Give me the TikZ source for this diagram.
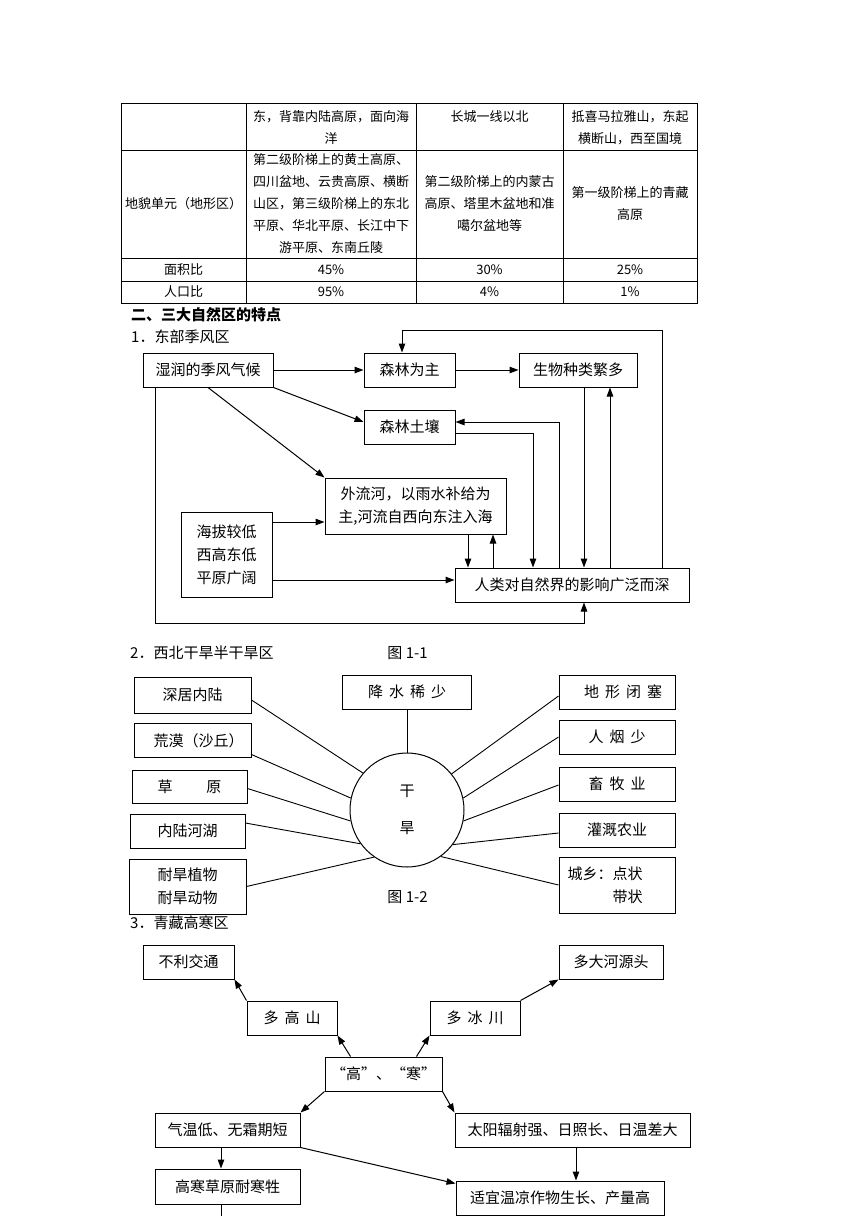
\documentclass[tikz,border=0pt]{standalone}
\usepackage{fontspec}
\setmainfont{Noto Sans CJK SC}
\usetikzlibrary{arrows.meta,positioning}
\newcommand{\figfont}{\fontsize{15pt}{23pt}\selectfont}
\newcommand{\tabfont}{\fontsize{13pt}{22pt}\selectfont}
\newcommand{\gp}{\hspace{6pt}}

\begin{document}
\begin{tikzpicture}[x=1pt,y=-1pt,>={Triangle[length=9pt,width=6.5pt]},font=\figfont,
 box/.style={draw,line width=1pt,minimum height=34pt,inner sep=0pt,align=center},
 arr/.style={->,line width=1pt},
 ln/.style={line width=0.9pt},
 tbl/.style={line width=0.8pt},
 txt/.style={inner sep=0pt,align=center}]
\useasboundingbox (0,0) rectangle (860,1216);
\draw[tbl] (121,103) rectangle (697,303);
\foreach \y in {150,258,281} \draw[tbl] (121,\y) -- (697,\y);
\foreach \x in {246,416,563} \draw[tbl] (\x,103) -- (\x,303);
\begin{scope}[every node/.style={txt,font=\tabfont}]
\node (t12) at (331,128) {东，背靠内陆高原，面向海\\洋};
\node (t13) at (489.5,117) {长城一线以北};
\node (t14) at (630,128) {抵喜马拉雅山，东起\\横断山，西至国境};
\node (t21) at (183.5,204) {地貌单元（地形区）};
\node (t22) at (331,204) {第二级阶梯上的黄土高原、\\四川盆地、云贵高原、横断\\山区，第三级阶梯上的东北\\平原、华北平原、长江中下\\游平原、东南丘陵};
\node (t23) at (489.5,204) {第二级阶梯上的内蒙古\\高原、塔里木盆地和准\\噶尔盆地等};
\node (t24) at (630,204) {第一级阶梯上的青藏\\高原};
\node (t31) at (183.5,269.5) {面积比};
\node (t32) at (331,269.5) {45\%};
\node (t33) at (489.5,269.5) {30\%};
\node (t34) at (630,269.5) {25\%};
\node (t41) at (183.5,292) {人口比};
\node (t42) at (331,292) {95\%};
\node (t43) at (489.5,292) {4\%};
\node (t44) at (630,292) {1\%};
\end{scope}
\node[txt,anchor=west,font=\figfont\bfseries] (h2) at (131,315) {二、三大自然区的特点};
\node[txt,anchor=west] (s1) at (131,337) {1．东部季风区};
\node[box,minimum width=130pt] (wet) at (208,370) {湿润的季风气候};
\node[box,minimum width=91pt] (frs) at (409.5,370) {森林为主};
\node[box,minimum width=118pt] (bio) at (578,370) {生物种类繁多};
\node[box,minimum width=91pt] (soil) at (409.5,427) {森林土壤};
\node[box,minimum width=181pt,minimum height=56pt] (river) at (415.5,506) {外流河，以雨水补给为\\主,河流自西向东注入海};
\node[box,minimum width=91pt,minimum height=85pt] (low) at (226.5,554.5) {海拔较低\\西高东低\\平原广阔};
\node[box,minimum width=234pt] (hum) at (572,585) {人类对自然界的影响广泛而深};
\coordinate (rw) at ([yshift=-16pt]river.west);
\coordinate (hw) at ([yshift=5pt]hum.west);
\draw[arr] (wet) -- (frs);
\draw[arr] (frs) -- (bio);
\draw[arr] (wet.south east) -- ([yshift=5pt]soil.west);
\draw[arr] (wet.south) -- (river.north west);
\draw[arr] ([xshift=13pt]wet.south west) |- ([xshift=12pt,yshift=-21pt]hum.south) -- ([xshift=12pt]hum.south);
\draw[arr] (low.east |- rw) -- (rw);
\draw[arr] (low.east |- hw) -- (hw);
\draw[arr] ([xshift=52.5pt]river.south) -- ([xshift=52.5pt]river.south |- hum.north);
\draw[arr] ([xshift=77.5pt]river.south |- hum.north) -- ([xshift=77.5pt]river.south);
\draw[arr] ([yshift=-6pt]soil.east) -| ([xshift=-39pt]hum.north);
\draw[arr] ([xshift=-13pt]hum.north) |- ([yshift=5pt]soil.east);
\draw[arr] ([xshift=6pt]bio.south) -- ([xshift=6pt]bio.south |- hum.north);
\draw[arr] ([xshift=32pt]bio.south |- hum.north) -- ([xshift=32pt]bio.south);
\draw[arr] ([xshift=90pt]hum.north) |- ([xshift=-7.5pt,yshift=22pt]frs.north) -- ([xshift=-7.5pt]frs.north);
\node[txt,anchor=west] (s2) at (130,653) {2．西北干旱半干旱区};
\node[txt] (f1) at (407.5,653) {图 1-1};
\node[draw,circle,line width=1pt,minimum size=114pt,inner sep=0pt,align=center] (dry) at (407,810) {干\\[14pt]旱};
\node[box,minimum width=129pt] (rain) at (407,692) {降\gp{}水\gp{}稀\gp{}少};
\node[box,minimum width=117pt,minimum height=36pt] (deep) at (192.5,695) {深居内陆};
\node[box,minimum width=117pt] (desert) at (192.5,740.5) {\hspace*{12pt}荒漠（沙丘）};
\node[box,minimum width=115pt,minimum height=33pt] (grass) at (189.5,786.5) {草\hspace{34pt}原};
\node[box,minimum width=115pt] (lake) at (187.5,831) {内陆河湖};
\node[box,minimum width=117pt,minimum height=55pt] (plant) at (187.5,886.5) {耐旱植物\\耐旱动物};
\node[box,minimum width=116pt] (closed) at (617,692) {\hspace*{12pt}地\gp{}形\gp{}闭\gp{}塞};
\node[box,minimum width=116pt] (people) at (617,737) {人\gp{}烟\gp{}少};
\node[box,minimum width=116pt] (herd) at (617,784) {畜\gp{}牧\gp{}业};
\node[box,minimum width=116pt] (irrig) at (617,830) {灌溉农业};
\node[box,minimum width=116pt,minimum height=56pt,align=right] (town) at (617,885) {城乡：点状\hspace*{24pt}\\带状\hspace*{24pt}};
\draw[ln] (rain) -- (dry);
\foreach \n/\s/\a in {deep/-5/140,desert/-14/168,grass/-2/191,lake/8/216,plant/0/235}
 \draw[ln] ([yshift=\s pt]\n.east) -- (dry.\a);
\foreach \n/\s/\a in {closed/-4/39,people/0/12,herd/-1/-11,irrig/-3/-37,town/0/-54}
 \draw[ln] ([yshift=\s pt]\n.west) -- (dry.\a);
\node[txt] (f2) at (407.5,897) {图 1-2};
\node[txt,anchor=west] (s3) at (130,923) {3．青藏高寒区};
\node[box,minimum width=91pt] (bad) at (188.5,962) {不利交通};
\node[box,minimum width=104pt] (src) at (611,962) {多大河源头};
\node[box,minimum width=90pt] (mnt) at (292,1018) {多\gp{}高\gp{}山};
\node[box,minimum width=90pt] (glc) at (475,1018) {多\gp{}冰\gp{}川};
\node[box,minimum width=117pt] (gh) at (383.5,1074) {“高”、“寒”};
\node[box,minimum width=145pt] (cold) at (227.5,1130) {气温低、无霜期短};
\node[box,minimum width=235pt] (sun) at (572.5,1130) {太阳辐射强、日照长、日温差大};
\node[box,minimum width=145pt,minimum height=35pt] (grs) at (227.5,1186.5) {高寒草原耐寒牲};
\node[box,minimum width=208pt] (crop) at (560,1198) {适宜温凉作物生长、产量高};
\coordinate (gend) at (221,1216);
\draw[arr] (mnt.north west) -- (bad.south east);
\draw[arr] (glc.north east) -- (src.south west);
\draw[arr] ([xshift=-33pt]gh.north) -- (mnt.south east);
\draw[arr] ([xshift=33pt]gh.north) -- (glc.south west);
\draw[arr] (gh.south west) -- (cold.north east);
\draw[arr] (gh.south east) -- (sun.north west);
\draw[arr] ([xshift=-6.5pt]cold.south) -- ([xshift=-6.5pt]grs.north);
\draw[arr] ([xshift=3.5pt]sun.south) -- ([xshift=3.5pt]sun.south |- crop.north);
\draw[arr] (cold.south east) -- ([yshift=-3pt]crop.north west);
\draw[ln] (grs.south -| gend) -- (gend);
\end{tikzpicture}
\end{document}
